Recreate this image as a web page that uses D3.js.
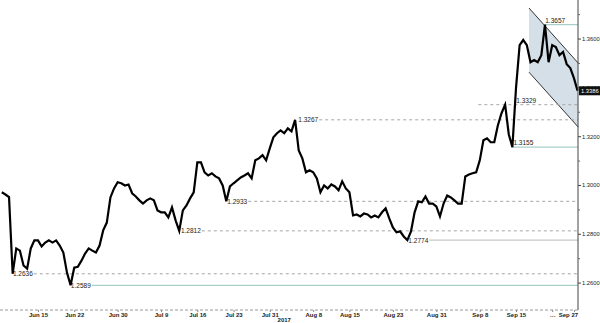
<!DOCTYPE html>
<html>
<head>
<meta charset="utf-8">
<script src="https://cdn.jsdelivr.net/npm/d3@7"></script>
<style>
body { margin: 0; background: #fff; }
text { font-family: "Liberation Sans", Arial, sans-serif; }
</style>
</head>
<body>
<script>
// Kurs, zwei Werte pro Handelstag, ab 8. Juni 2017 (Handelstag -5 relativ zum 15. Juni)
var startDay = -5;
var stepDays = 0.5;
var closes = [
  1.2970, 1.2961, 1.2950, 1.2636, 1.2740, 1.2731, 1.2670, 1.2657, 1.2740, 1.2773,
  1.2773, 1.2748, 1.2764, 1.2773, 1.2764, 1.2773, 1.2752, 1.2723, 1.2641, 1.2589,
  1.2661, 1.2665, 1.2690, 1.2719, 1.2740, 1.2731, 1.2723, 1.2752, 1.2814, 1.2846,
  1.2949, 1.2986, 1.3011, 1.3007, 1.2998, 1.3002, 1.2966, 1.2953, 1.2937, 1.2924,
  1.2937, 1.2945, 1.2937, 1.2896, 1.2888, 1.2888, 1.2867, 1.2908, 1.2855, 1.2812,
  1.2896, 1.2916, 1.2945, 1.2970, 1.3093, 1.3093, 1.3052, 1.3039, 1.3048, 1.3035,
  1.3027, 1.2998, 1.2933, 1.2994, 1.3007, 1.3019, 1.3031, 1.3039, 1.3048, 1.3027,
  1.3101, 1.3109, 1.3122, 1.3101, 1.3150, 1.3195, 1.3212, 1.3224, 1.3212, 1.3232,
  1.3220, 1.3267, 1.3142, 1.3109, 1.3052, 1.3060, 1.3052, 1.3027, 1.2970, 1.2998,
  1.2986, 1.3002, 1.2994, 1.2978, 1.3015, 1.2986, 1.2970, 1.2875, 1.2879, 1.2871,
  1.2883, 1.2879, 1.2867, 1.2875, 1.2867, 1.2888, 1.2904, 1.2863, 1.2826, 1.2806,
  1.2810, 1.2789, 1.2774, 1.2810, 1.2888, 1.2933, 1.2929, 1.2953, 1.2924, 1.2924,
  1.2912, 1.2871, 1.2924, 1.2957, 1.2949, 1.2937, 1.2924, 1.2924, 1.3035, 1.3043,
  1.3048, 1.3052, 1.3101, 1.3183, 1.3191, 1.3175, 1.3175, 1.3245, 1.3294, 1.3329,
  1.3208, 1.3155, 1.3397, 1.3573, 1.3594, 1.3573, 1.3503, 1.3512, 1.3503, 1.3532,
  1.3657, 1.3503, 1.3573, 1.3565, 1.3532, 1.3545, 1.3495, 1.3479, 1.3438, 1.3386
];

// Achsenbeschriftung unten
var tickDates = ["2017-06-15", "2017-06-22", "2017-06-30", "2017-07-09", "2017-07-16", "2017-07-23", "2017-07-31",
  "2017-08-08", "2017-08-15", "2017-08-23", "2017-08-31", "2017-09-08", "2017-09-15", "2017-09-22", "2017-09-27"];
var tickLabels = ["Jun 15", "Jun 22", "Jun 30", "Jul 9", "Jul 16", "Jul 23", "Jul 31",
  "Aug 8", "Aug 15", "Aug 23", "Aug 31", "Sep 8", "Sep 15", "\u2026", "Sep 27"];
var yearLabel = "2017";
var yearDate = "2017-08-02";

// rechte Achse
var yTicks = [1.26, 1.28, 1.30, 1.32, 1.34, 1.36];
var yMinor = [1.27, 1.29, 1.31, 1.33, 1.35, 1.37];
var lastPrice = 1.3386;

// markierte Hochs/Tiefs
var levelValues = [1.3657, 1.3329, 1.3267, 1.3155, 1.2933, 1.2812, 1.2774, 1.2636, 1.2589];
var levelDays   = [69.9, 60.8, 35.8, 65.5, 26.0, 19.6, 51.0, -3.6, 4.4];
var labelDays   = [69.9, 65.9, 35.8, 65.5, 26.0, 19.6, 51.0, -3.6, 4.4];
var levelKinds  = ["teal", "dash", "dash", "teal", "dash", "dash", "grey", "dash", "teal"];
var labelAbove  = [true, true, false, true, false, false, false, false, false];

// Abwärtskanal
var channelDays  = [67.8, 74.6];
var channelUpper = [1.3725, 1.3499];
var channelLower = [1.3462, 1.3237];

var width = 600, height = 323;
var plotRight = 578, plotBottom = 307, axisY = 310;

var base = new Date(2017, 5, 15);
var parse = d3.timeParse("%Y-%m-%d");
function tradingDay(s) {
  var d = parse(s);
  return d3.timeDay.range(base, d).filter(function(t) { return t.getDay() > 0 && t.getDay() < 6; }).length;
}

var xScale = d3.scaleLinear().domain([0, 66]).range([38, 516]);
var yScale = d3.scaleLinear().domain([1.25, 1.3758]).range([plotBottom, 0]);

var svg = d3.select("body").append("svg")
    .attr("width", width)
    .attr("height", height);

// Kanal
var chan = channelDays.map(function(d, i) { return {d: d, hi: channelUpper[i], lo: channelLower[i]}; });
svg.append("path")
    .datum(chan)
    .attr("fill", "#d4dfe7")
    .attr("d", d3.area().x(function(d) { return xScale(d.d); })
        .y0(function(d) { return yScale(d.lo); })
        .y1(function(d) { return yScale(d.hi); }));
["hi", "lo"].forEach(function(k) {
  svg.append("path")
      .datum(chan)
      .attr("fill", "none")
      .attr("stroke", "#333")
      .attr("stroke-width", 1)
      .attr("d", d3.line().x(function(d) { return xScale(d.d); }).y(function(d) { return yScale(d[k]); }));
});

// Linien der Hochs/Tiefs
var colors = {teal: "#a9cfca", dash: "#a6a6a6", grey: "#c8c8c8"};
levelValues.forEach(function(v, i) {
  var x0 = xScale(levelDays[i]);
  var xl = xScale(labelDays[i]);
  var y0 = yScale(v);
  var txt = svg.append("text")
      .attr("x", xl + 1)
      .attr("y", labelAbove[i] ? y0 - 2 : y0 + 2.5)
      .attr("font-size", "6.5px")
      .attr("fill", "#222")
      .text(v.toFixed(4));
  var lineStart = labelAbove[i] ? x0 : x0 + txt.node().getComputedTextLength() + 2;
  svg.append("line")
      .attr("x1", lineStart).attr("x2", plotRight)
      .attr("y1", y0).attr("y2", y0)
      .attr("stroke", colors[levelKinds[i]])
      .attr("stroke-width", levelKinds[i] == "dash" ? 1 : 1.3)
      .attr("stroke-dasharray", levelKinds[i] == "dash" ? "3,3" : null);
});

// Kurslinie
svg.append("path")
    .datum(closes)
    .attr("fill", "none")
    .attr("stroke", "#000")
    .attr("stroke-width", 2.2)
    .attr("stroke-linejoin", "miter")
    .attr("d", d3.line()
        .x(function(d, i) { return xScale(startDay + i * stepDays); })
        .y(function(d) { return yScale(d); }));

// rechte Achse
var yAxis = svg.append("g")
    .attr("transform", "translate(" + plotRight + ",0)")
    .call(d3.axisRight(yScale).tickValues(yTicks).tickFormat(d3.format(".4f")).tickSize(3).tickPadding(1));
yAxis.select(".domain").attr("stroke", "#444").attr("d", "M0,0V" + axisY);
yAxis.selectAll("text").attr("font-size", "5.8px").attr("fill", "#222").attr("font-family", "Liberation Sans, Arial, sans-serif");
yAxis.selectAll("line").attr("stroke", "#444");
svg.append("g")
    .attr("transform", "translate(" + plotRight + ",0)")
    .call(d3.axisRight(yScale).tickValues(yMinor).tickFormat("").tickSize(2))
    .call(function(g) { g.select(".domain").remove(); g.selectAll("line").attr("stroke", "#666"); });

// letzter Kurs
var lp = svg.append("g").attr("transform", "translate(" + plotRight + "," + yScale(lastPrice) + ")");
lp.append("rect").attr("x", 1).attr("y", -4.5).attr("width", 21).attr("height", 9).attr("fill", "#111");
lp.append("text").attr("x", 3).attr("y", 2.2).attr("font-size", "5.8px").attr("fill", "#fff").text(lastPrice.toFixed(4));

// untere Achse
var xAxis = svg.append("g")
    .attr("transform", "translate(0," + axisY + ")")
    .call(d3.axisBottom(xScale)
        .tickValues(tickDates.map(tradingDay))
        .tickFormat(function(d, i) { return tickLabels[i]; })
        .tickSize(2).tickPadding(1));
xAxis.select(".domain").attr("stroke", "#999").attr("stroke-dasharray", "3,2").attr("d", "M0,0H" + plotRight);
xAxis.selectAll("line").attr("stroke", "#888");
xAxis.selectAll("text")
    .attr("font-size", "6px")
    .attr("fill", "#222")
    .attr("font-family", "Liberation Sans, Arial, sans-serif")
    .attr("font-weight", "bold")
    .attr("x", function(d, i) { return i == tickLabels.length - 1 ? -6 : 0; });

svg.append("text")
    .attr("x", xScale(tradingDay(yearDate)))
    .attr("y", 322)
    .attr("text-anchor", "middle")
    .attr("font-size", "6px")
    .attr("font-weight", "bold")
    .attr("fill", "#222")
    .text(yearLabel);
</script>
</body>
</html>
